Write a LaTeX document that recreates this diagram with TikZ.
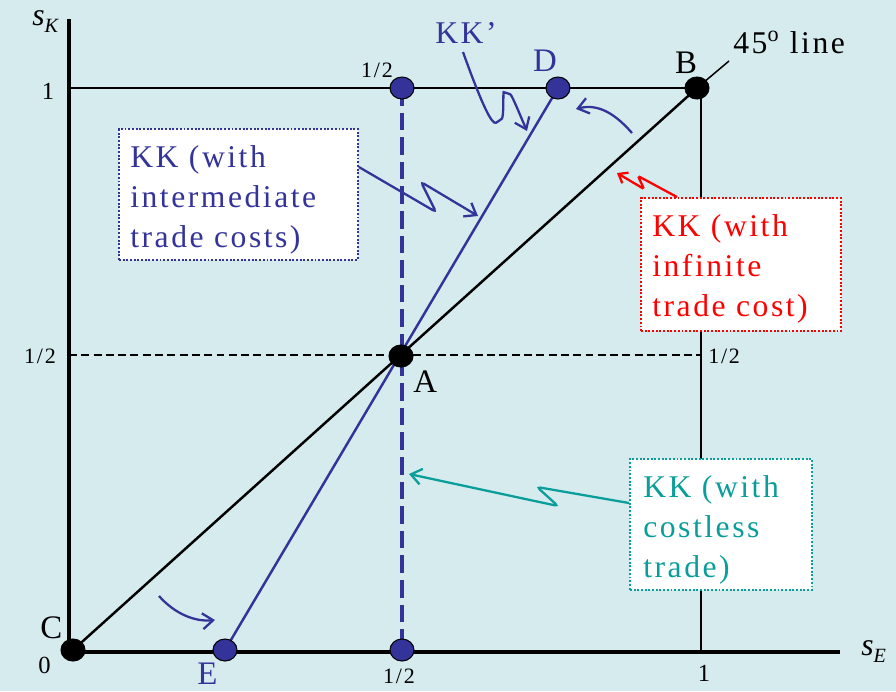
\documentclass[tikz,border=0pt]{standalone}
\usepackage{fontspec}
\setmainfont{Liberation Serif}[LetterSpace=8]
\usetikzlibrary{arrows.meta,shapes.geometric,calc}
\definecolor{bg}{HTML}{D6EBEE}
\definecolor{kblue}{HTML}{333399}
\definecolor{kteal}{HTML}{0A9E9A}
\definecolor{kred}{HTML}{FF0000}
\begin{document}
\begin{tikzpicture}[x=0.02cm,y=-0.02cm,
  lbl/.style={inner sep=0pt, font=\fontsize{18.7}{20}\selectfont},
  num/.style={inner sep=0pt, font=\fontsize{12.5}{14}\selectfont},
  numbig/.style={inner sep=0pt, font=\fontsize{14}{16}\selectfont},
  boxtext/.style={inner sep=0pt, anchor=north west, align=left, font=\fontsize{18}{22.7}\selectfont},
  notebox/.style={draw=#1, densely dotted, line width=1.1pt, fill=white, anchor=north west, inner sep=0pt},
  bigdot/.style={ellipse, draw=black, line width=0.6pt, fill=#1, minimum width=0.48cm, minimum height=0.44cm, inner sep=0pt},
  thinline/.style={line width=0.85pt, black},
  axis/.style={line width=2.5pt, black},
  arr/.style={line width=1.3pt, rounded corners=2pt, -{Straight Barb[length=6pt,width=9pt,line width=1.3pt]}},
  arrsmall/.style={line width=1.3pt, rounded corners=1pt, -{Straight Barb[length=4.5pt,width=7pt,line width=1.3pt]}}
]
\fill[bg] (0,0) rectangle (896,691);
\useasboundingbox (0,0) rectangle (896,691);

% coordinates
\coordinate (O) at (69,652);
\coordinate (ytop) at (69,19);
\coordinate (xend) at (840,652);
\coordinate (y1) at (69,88);
\coordinate (yh) at (69,355);
\coordinate (x1top) at (701,88);
\coordinate (x1) at (701,652);
\coordinate (xhR) at (701,355);
\coordinate (tick) at (729,61);

% dot positions
\coordinate (C) at (73,650);
\coordinate (B) at (697,88);
\coordinate (A) at (401,356);
\coordinate (D) at (558,88);
\coordinate (E) at (225,650);
\coordinate (Htop) at (402,88);
\coordinate (Hbot) at (402,650);

% thin lines
\draw[thinline] (y1) -- (x1top);
\draw[thinline] (x1top) -- (x1);
\draw[black, line width=1.2pt, dash pattern=on 4.5pt off 2.5pt] (yh) -- (xhR);
\draw[thinline] (B) -- (tick);
% blue dashed vertical
\draw[kblue, line width=2.2pt, dash pattern=on 10pt off 4pt] (Htop) -- (Hbot);
% diagonal 45
\draw[black, line width=1.4pt] (C) -- (B);
% KK' line
\draw[kblue, line width=1.4pt] (E) -- (D);
% axes
\draw[axis] (ytop) -- (O) -- (xend);

% dots on top
\node[bigdot=black] (Cdot) at (C) {};
\node[bigdot=black] (Bdot) at (B) {};
\node[bigdot=black] (Adot) at (A) {};
\node[bigdot=kblue] (Ddot) at (D) {};
\node[bigdot=kblue] (Edot) at (E) {};
\node[bigdot=kblue] (Htopdot) at (Htop) {};
\node[bigdot=kblue] (Hbotdot) at (Hbot) {};

% boxes
\node[notebox=kblue, minimum width=4.78cm, minimum height=2.62cm] (kbox) at (118,128) {};
\node[boxtext, text=kblue] (kboxtext) at (130,145) {KK (with\\intermediate\\trade costs)};
\node[notebox=kred, minimum width=4.0cm, minimum height=2.66cm] (rbox) at (640,197) {};
\node[boxtext, text=kred] (rboxtext) at (652,214) {KK (with\\infinite\\trade cost)};
\node[notebox=kteal, minimum width=3.64cm, minimum height=2.62cm] (tbox) at (629,458) {};
\node[boxtext, text=kteal] (tboxtext) at (643,475) {KK (with\\costless\\trade)};

% arrows
\draw[arr, kblue] ($(kbox.north east)+(0,39)$) -- (436,212) -- (421,182) -- (478,216);
\draw[arr, kblue] (463,52) .. controls (482,105) and (492,125) .. (499,121) .. controls (504,117) and (503,92) .. (507,93) .. controls (512,95) and (520,115) .. (527,131);
\draw[arr, kblue] (632,133) .. controls (612,110) and (595,104) .. (576,109);
\draw[arr, kblue] (159,596) .. controls (175,614) and (195,622) .. (215,620);
\draw[arrsmall, kred] ($(rbox.north west)+(37,0)$) -- (638,176) -- (644,189) -- (617,173);
\draw[arr, kteal] ($(tbox.north west)+(0,45)$) -- (537,487) -- (558,506) -- (409,474);

% labels
\node[anchor=base west, inner sep=0pt, font=\fontsize{18}{20}\selectfont\itshape] (sK) at (32,25) {s\raisebox{-4.5pt}{\fontsize{11.5}{12}\selectfont K}};
\node[anchor=base west, inner sep=0pt, font=\fontsize{18}{20}\selectfont\itshape] (sE) at (861,655) {s\raisebox{-4.5pt}{\fontsize{11.5}{12}\selectfont E}};
\node[numbig, anchor=base] (one1) at (48,99) {1};
\node[num, anchor=base] (halfL) at (40,363) {1/2};
\node[num, anchor=base] (halfT) at (377,77) {1/2};
\node[lbl, anchor=base, text=kblue] (Dlbl) at (545,71) {D};
\node[lbl, anchor=base] (Blbl) at (686,73) {B};
\node[lbl, anchor=base west, font=\fontsize{18}{20}\selectfont] (line45) at (733,53) {45\textsuperscript{o} line};
\node[lbl, anchor=base west, text=kblue, font=\fontsize{18}{20}\selectfont] (KKp) at (435,43) {KK’};
\node[num, anchor=base west] (halfR) at (708,363) {1/2};
\node[lbl, anchor=base west] (Albl) at (413,392) {A};
\node[lbl, anchor=base west] (Clbl) at (40,638) {C};
\node[numbig, anchor=base west] (zero) at (38,673) {0};
\node[lbl, anchor=base west, text=kblue] (Elbl) at (197,684) {E};
\node[num, anchor=base] (halfB) at (399,683) {1/2};
\node[numbig, anchor=base] (one2) at (704,681) {1};
\end{tikzpicture}
\end{document}
